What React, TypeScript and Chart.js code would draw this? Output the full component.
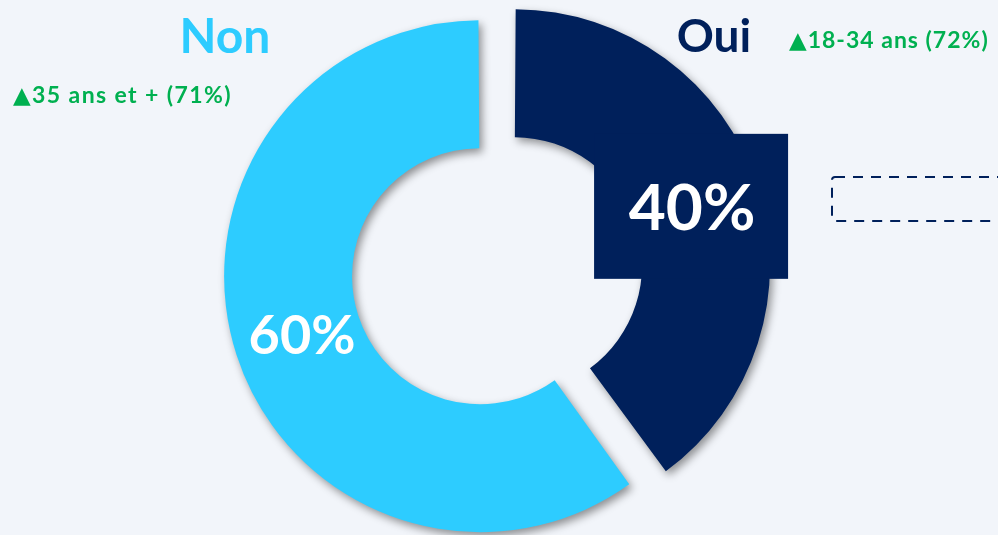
import React, { useEffect, useRef } from "react";
import { Chart, registerables } from "chart.js";

Chart.register(...registerables);

const categories = ["Oui", "Non"];
const values = [40, 60];
const valueLabels = ["40%", "60%"];
const sliceColors = ["#00205B", "#2DCCFF"];
// Chart.js moves an arc by offset / 4 and widens its radii by (offset / 4) * (1 - sin(min(PI, circumference)))
const sliceOffsets = [101, 41.6];
const labelFontSizes = [64, 54];
const labelBoxes = [true, false];

const W = 998;
const H = 535;
const BG = "#F2F5FA";
const FONT = "Lato, 'Open Sans', 'DejaVu Sans', sans-serif";

const shadowAndLabels = {
  id: "shadowAndLabels",
  beforeDatasetsDraw(chart: any) {
    const ctx = chart.ctx;
    ctx.save();
    ctx.shadowColor = "rgba(0,0,0,0.42)";
    ctx.shadowBlur = 8;
    ctx.shadowOffsetX = 3;
    ctx.shadowOffsetY = 4;
  },
  afterDatasetsDraw(chart: any) {
    const ctx = chart.ctx;
    ctx.restore();
    const meta = chart.getDatasetMeta(0);
    const ds = chart.data.datasets[0];
    meta.data.forEach((arc: any, i: number) => {
      const p = arc.getProps(["x", "y", "startAngle", "endAngle", "innerRadius", "outerRadius", "circumference"], true);
      const mid = (p.startAngle + p.endAngle) / 2;
      const t = ((ds.offset as number[])[i] || 0) / 4;
      const circ = p.endAngle - p.startAngle;
      const inc = t * (1 - Math.sin(Math.min(Math.PI, circ)));
      const rho = ((p.innerRadius + p.outerRadius) / 2 + inc) * 0.975 + t;
      const cx = p.x + Math.cos(mid) * rho;
      const cy = p.y + Math.sin(mid) * rho;
      const fs = labelFontSizes[i];
      if (labelBoxes[i]) {
        ctx.save();
        ctx.fillStyle = sliceColors[i];
        const bw = 194;
        const bh = 145;
        ctx.fillRect(cx - 1 - bw / 2, cy - 1 - bh / 2, bw, bh);
        ctx.restore();
      }
      ctx.save();
      ctx.fillStyle = "#FFFFFF";
      ctx.font = `bold ${fs}px ${FONT}`;
      ctx.textAlign = "center";
      ctx.textBaseline = "alphabetic";
      ctx.fillText(valueLabels[i], cx, cy + fs * 0.36);
      ctx.restore();
    });
  },
};

export default function App() {
  const ref = useRef<HTMLCanvasElement | null>(null);

  useEffect(() => {
    if (!ref.current) return;
    const chart = new Chart(ref.current, {
      type: "doughnut",
      data: {
        labels: categories,
        datasets: [
          {
            data: values,
            backgroundColor: sliceColors,
            borderWidth: 0,
            offset: sliceOffsets,
            hoverOffset: 0,
          } as any,
        ],
      },
      options: {
        animation: false,
        responsive: false,
        devicePixelRatio: 1,
        radius: 245.6,
        cutout: "47.9%",
        layout: { padding: { top: 11, right: 18, left: 0, bottom: 0 } },
        events: [],
        plugins: {
          legend: { display: false },
          tooltip: { enabled: false },
        },
      } as any,
      plugins: [shadowAndLabels],
    });
    return () => chart.destroy();
  }, []);

  const text = (extra: React.CSSProperties): React.CSSProperties => ({
    position: "absolute",
    fontFamily: FONT,
    fontWeight: 700,
    whiteSpace: "nowrap",
    lineHeight: 1,
    ...extra,
  });

  return (
    <div
      style={{
        position: "fixed",
        left: 0,
        top: 0,
        width: W,
        height: H,
        background: BG,
        overflow: "hidden",
      }}
    >
      <canvas ref={ref} width={W} height={H} style={{ position: "absolute", left: 0, top: 0 }} />
      <div style={text({ left: 225, top: 10.5, fontSize: 48, color: "#2DCCFF", transform: "translateX(-50%)" })}>Non</div>
      <div style={text({ left: 714, top: 12, fontSize: 46, color: "#00205B", transform: "translateX(-50%)" })}>Oui</div>
      <div style={text({ left: 789, top: 28, fontSize: 23, letterSpacing: 1, color: "#00B050" })}>▲18-34 ans (72%)</div>
      <div style={text({ left: 13, top: 83, fontSize: 23, letterSpacing: 1.4, color: "#00B050" })}>▲35 ans et + (71%)</div>
      <svg
        width={200}
        height={50}
        style={{ position: "absolute", left: 830, top: 175, overflow: "visible" }}
      >
        <rect x={2} y={2} width={240} height={44} rx={3} ry={3} fill="none" stroke="#00205B" strokeWidth={2} strokeDasharray="10 8" />
      </svg>
    </div>
  );
}
